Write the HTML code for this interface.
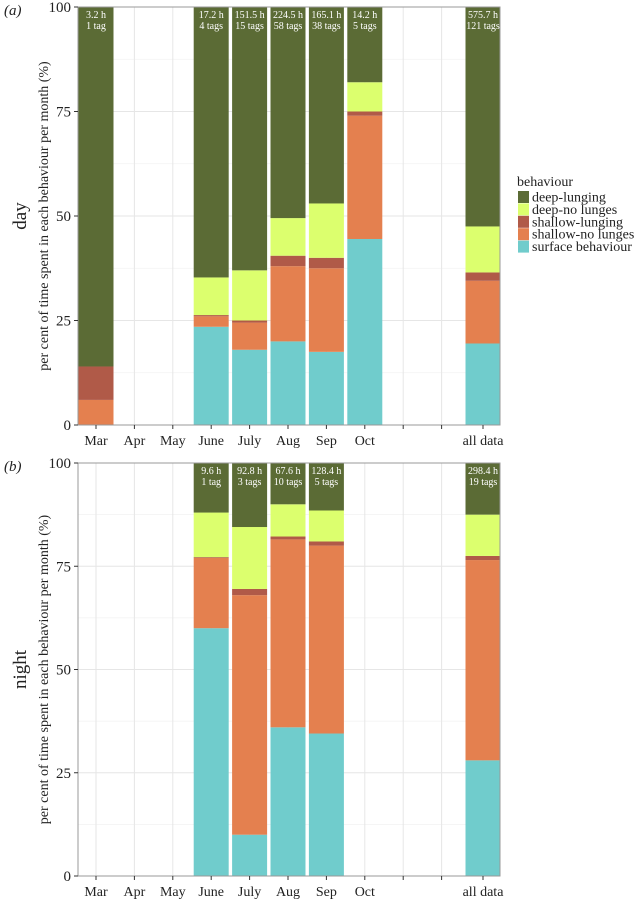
<!DOCTYPE html>
<html><head><meta charset="utf-8"><style>
body{margin:0;background:#fff}
svg, svg text{font-family:"Liberation Serif","Times New Roman","DejaVu Serif",serif}
</style></head><body>
<svg id="c" width="642" height="900" font-family="Liberation Serif, Times New Roman, DejaVu Serif, serif" xmlns="http://www.w3.org/2000/svg"></svg>
<script>
const categories=["Mar","Apr","May","June","July","Aug","Sep","Oct","","","all data"];
const series=["surface behaviour","shallow-no lunges","shallow-lunging","deep-no lunges","deep-lunging"];
const colors=["#70cccc","#e4804f","#b05a48","#dcff6e","#5b6b35"];
const daySurface=[0,null,null,23.5,18,20,17.5,44.5,null,null,19.5];
const dayShallowNo=[6,null,null,2.5,6.5,18,20,29.5,null,null,15];
const dayShallowL=[8,null,null,0.3,0.5,2.5,2.5,1,null,null,2];
const dayDeepNo=[0,null,null,9,12,9,13,7,null,null,11];
const dayDeepL=[86,null,null,64.7,63,50.5,47,18,null,null,52.5];
const dayHours=["3.2 h",null,null,"17.2 h","151.5 h","224.5 h","165.1 h","14.2 h",null,null,"575.7 h"];
const dayTags=["1 tag",null,null,"4 tags","15 tags","58 tags","38 tags","5 tags",null,null,"121 tags"];
const nightSurface=[null,null,null,60,10,36,34.5,null,null,null,28];
const nightShallowNo=[null,null,null,17,58,45.5,45.5,null,null,null,48.5];
const nightShallowL=[null,null,null,0.2,1.5,0.7,1,null,null,null,1];
const nightDeepNo=[null,null,null,10.8,15,7.8,7.5,null,null,null,10];
const nightDeepL=[null,null,null,12,15.5,10,11.5,null,null,null,12.5];
const nightHours=[null,null,null,"9.6 h","92.8 h","67.6 h","128.4 h",null,null,null,"298.4 h"];
const nightTags=[null,null,null,"1 tag","3 tags","10 tags","5 tags",null,null,null,"19 tags"];
const yTicks=[0,25,50,75,100];

const NS="http://www.w3.org/2000/svg",svg=document.getElementById("c");
const FF="Liberation Serif, Times New Roman, DejaVu Serif, serif";
function mk(t,a,p){const e=document.createElementNS(NS,t);for(const k in a)e.setAttribute(k,a[k]);if(t==="text")e.setAttribute("font-family",FF);(p||svg).appendChild(e);return e;}
const X0=78,X1=500;
function xPos(i){return i===10?483:96+i*38.4;}
function panel(name,y0,y100,vals,hours,tags,label,title){
  const g=mk("g",{});
  
  
  const ys=v=>y0-(v/100)*(y0-y100);
  for(let v=12.5;v<100;v+=25)mk("line",{x1:X0,x2:X1,y1:ys(v),y2:ys(v),stroke:"#f2f2f2","stroke-width":0.8},g);
  yTicks.forEach(v=>mk("line",{x1:X0,x2:X1,y1:ys(v),y2:ys(v),stroke:"#e6e6e6","stroke-width":1},g));
  categories.forEach((c,i)=>mk("line",{x1:xPos(i),x2:xPos(i),y1:y100,y2:y0,stroke:"#e6e6e6","stroke-width":1},g));
  categories.forEach((c,i)=>{
    if(vals[0][i]==null)return;
    let acc=0;
    vals.forEach((arr,s)=>{
      const v=arr[i];const r=mk("rect",{x:xPos(i)-17.5,width:35,y:ys(acc+v),height:ys(acc)-ys(acc+v),fill:colors[s]},g);
      
      
      acc+=v;
    });
    const t1=mk("text",{x:xPos(i),y:y100+11,"font-size":10,fill:"#fff","text-anchor":"middle"},g);t1.textContent=hours[i];
    
    
    const t2=mk("text",{x:xPos(i),y:y100+22,"font-size":10,fill:"#fff","text-anchor":"middle"},g);t2.textContent=tags[i];
    
    
  });
  mk("rect",{x:X0,y:y100,width:X1-X0,height:y0-y100,fill:"none",stroke:"#999","stroke-width":1},g);
  yTicks.forEach(v=>{
    mk("line",{x1:X0-4,x2:X0,y1:ys(v),y2:ys(v),stroke:"#333"},g);
    const t=mk("text",{x:X0-7,y:ys(v)+5,"font-size":15,"text-anchor":"end",fill:"#222"},g);t.textContent=v;
    
    
  });
  categories.forEach((c,i)=>{
    mk("line",{x1:xPos(i),x2:xPos(i),y1:y0,y2:y0+4,stroke:"#333"},g);
    const t=mk("text",{x:xPos(i),y:y0+20,"font-size":14,"text-anchor":"middle",fill:"#222"},g);t.textContent=c;
    
    
  });
  const pl=mk("text",{x:4,y:y100+8,"font-size":15,"font-style":"italic",fill:"#222"},g);pl.textContent=label;
  
  
  const mid=(y0+y100)/2;
  const t=mk("text",{x:26,y:mid,"font-size":19,"text-anchor":"middle",transform:`rotate(-90 26 ${mid})`,fill:"#222"},g);t.textContent=title;
  
  
  const yt=mk("text",{x:48,y:mid,"font-size":14,"text-anchor":"middle",transform:`rotate(-90 48 ${mid})`,fill:"#222"},g);yt.textContent="per cent of time spent in each behaviour per month (%)";
  
  
}
panel("day",425,7,[daySurface,dayShallowNo,dayShallowL,dayDeepNo,dayDeepL],dayHours,dayTags,"(a)","day");
panel("night",876,463,[nightSurface,nightShallowNo,nightShallowL,nightDeepNo,nightDeepL],nightHours,nightTags,"(b)","night");
const lg=mk("g",{});


const lt=mk("text",{x:517,y:186,"font-size":14,fill:"#222"},lg);lt.textContent="behaviour";
const order=[4,3,2,1,0];
order.forEach((s,k)=>{
  const y=191+k*12.4;
  mk("rect",{x:518,y:y,width:11,height:12,fill:colors[s]},lg);
  const t=mk("text",{x:532,y:y+10.5,"font-size":14,fill:"#222"},lg);t.textContent=series[s];
  
  
});
</script>
</body></html>
